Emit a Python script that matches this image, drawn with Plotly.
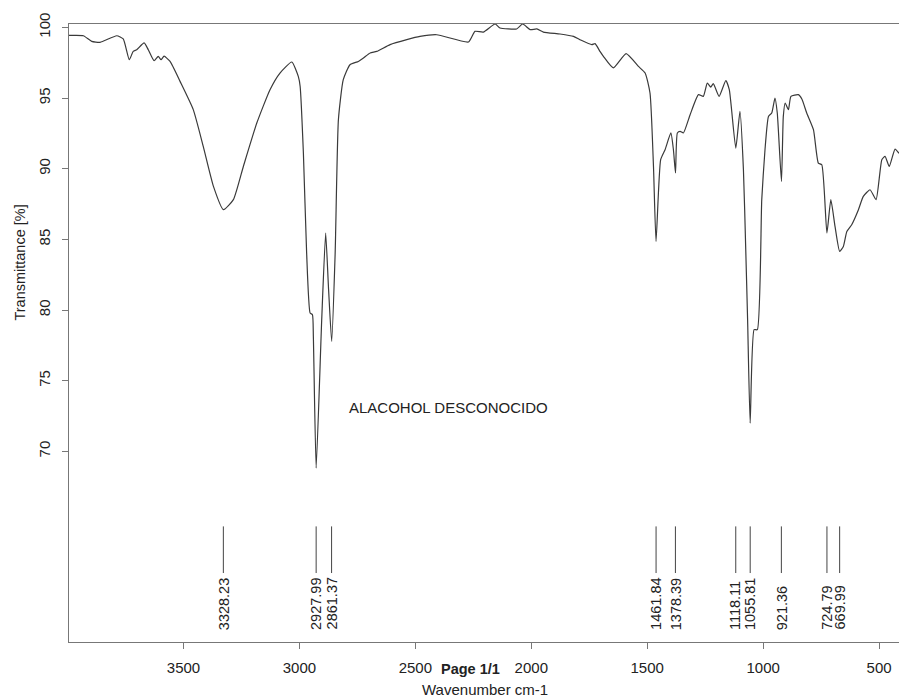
import plotly.graph_objects as go

# Spectrum
wavenumber = [3995, 3932, 3896, 3860, 3788, 3760, 3734, 3717, 3702, 3670, 3652, 3627, 3609, 3597, 3584, 3558,
              3515, 3458, 3415, 3371, 3328, 3285, 3242, 3184, 3127, 3084, 3033, 3005, 2997, 2983, 2969, 2954,
              2944, 2940, 2928, 2904, 2887, 2875, 2861, 2846, 2832, 2811, 2782, 2746, 2724, 2695, 2667, 2609,
              2537, 2480, 2408, 2271, 2243, 2207, 2156, 2135, 2063, 2037, 2005, 1976, 1948, 1876, 1818, 1790,
              1739, 1725, 1703, 1689, 1646, 1591, 1538, 1509, 1488, 1473, 1462, 1442, 1423, 1398, 1387, 1378,
              1370, 1358, 1344, 1315, 1279, 1258, 1241, 1226, 1215, 1190, 1161, 1146, 1118, 1100, 1085, 1075,
              1067, 1056, 1039, 1025, 1006, 992, 977, 963, 949, 939, 921, 913, 905, 891, 880, 848,
              833, 812, 783, 762, 747, 725, 708, 690, 670, 654, 639, 618, 589, 568, 539, 513,
              488, 474, 456, 431, 414]
transmittance = [99.43, 99.41, 99.01, 98.94, 99.41, 99.18, 97.71, 98.30, 98.42, 98.90, 98.42, 97.64, 97.95, 97.71, 97.96, 97.59,
                 96.18, 94.18, 91.58, 88.75, 87.10, 87.81, 90.16, 93.23, 95.59, 96.77, 97.55, 96.53, 95.82, 91.11, 84.03, 79.79,
                 79.67, 78.13, 68.82, 79.31, 85.45, 81.67, 77.78, 84.03, 93.47, 96.30, 97.36, 97.59, 97.83, 98.19, 98.30, 98.78,
                 99.13, 99.36, 99.48, 98.97, 99.72, 99.67, 100.24, 99.96, 99.89, 100.24, 99.84, 99.89, 99.67, 99.53, 99.36, 99.13,
                 98.78, 98.85, 98.28, 97.95, 97.13, 98.14, 97.24, 96.77, 95.36, 90.16, 84.85, 90.64, 91.34, 92.53, 91.34, 89.70,
                 92.53, 92.64, 92.53, 93.82, 95.24, 95.12, 96.06, 95.78, 96.02, 95.12, 96.23, 95.59, 91.46, 94.06, 89.93, 84.27,
                 79.31, 72.00, 78.61, 78.61, 87.81, 91.34, 93.70, 93.94, 95.00, 93.94, 89.10, 93.70, 94.65, 94.18, 95.12, 95.24,
                 94.93, 93.94, 92.76, 90.40, 90.28, 85.45, 87.81, 85.92, 84.15, 84.50, 85.56, 86.04, 87.10, 88.04, 88.51, 87.81,
                 90.64, 90.87, 90.16, 91.39, 91.09]
assert len(wavenumber) == len(transmittance)

# Peak picks
peak_positions = [3328.23, 2927.99, 2861.37, 1461.84, 1378.39, 1118.11, 1055.81, 921.36, 724.79, 669.99]
peak_labels = ["3328.23", "2927.99", "2861.37", "1461.84", "1378.39", "1118.11", "1055.81", "921.36", "724.79", "669.99"]

x_ticks = [3500, 3000, 2500, 2000, 1500, 1000, 500]
y_ticks = [70, 75, 80, 85, 90, 95, 100]

FONT = "Liberation Sans, Arial, sans-serif"
TXT = "#222222"
AX = "#777777"

fig = go.Figure()
fig.add_trace(go.Scatter(x=wavenumber, y=transmittance, mode="lines",
                         line=dict(color="#3a3a3a", width=1.2, shape="spline", smoothing=0.5),
                         hoverinfo="skip"))

px, py = [], []
for p in peak_positions:
    px += [p, p, None]
    py += [64.69, 61.39, None]
fig.add_trace(go.Scatter(x=px, y=py, mode="lines", line=dict(color="#444444", width=1), hoverinfo="skip"))

ann = []
for p, lab in zip(peak_positions, peak_labels):
    ann.append(dict(x=p, y=57.23, xref="x", yref="y", text=lab, showarrow=False, textangle=-90,
                    xanchor="center", yanchor="bottom", font=dict(family=FONT, size=14.5, color=TXT)))
ann.append(dict(x=2796, y=73.09, xref="x", yref="y", text="ALACOHOL DESCONOCIDO", showarrow=False,
                xanchor="left", yanchor="middle", font=dict(family=FONT, size=15, color=TXT)))
ann.append(dict(x=-0.059, y=0.614, xref="paper", yref="paper", text="Transmittance [%]", showarrow=False,
                textangle=-90, xanchor="center", yanchor="middle", font=dict(family=FONT, size=14.5, color=TXT)))
ann.append(dict(x=0.4843, y=-0.0432, xref="paper", yref="paper", text="<b>Page 1/1</b>", showarrow=False,
                xanchor="center", yanchor="middle", font=dict(family=FONT, size=14.5, color=TXT)))
ann.append(dict(x=0.501, y=-0.0772, xref="paper", yref="paper", text="Wavenumber cm-1", showarrow=False,
                xanchor="center", yanchor="middle", font=dict(family=FONT, size=15, color=TXT)))

fig.update_layout(
    width=899, height=700,
    margin=dict(l=69, r=0, t=24, b=58),
    plot_bgcolor="white", paper_bgcolor="white",
    showlegend=False,
    font=dict(family=FONT, color=TXT),
    annotations=ann,
    xaxis=dict(range=[3994, 414], tickvals=x_ticks, ticktext=[str(v) for v in x_ticks],
               ticks="outside", ticklen=6, tickcolor=AX, showline=True, linecolor=AX, linewidth=1,
               mirror=True, showgrid=False, zeroline=False, ticklabelstandoff=6,
               tickfont=dict(family=FONT, size=15, color=TXT)),
    yaxis=dict(range=[56.51, 100.24], tickvals=y_ticks, ticktext=[str(v) for v in y_ticks],
               tickangle=-90, ticks="outside", ticklen=6, tickcolor=AX, showline=True, linecolor=AX,
               linewidth=1, showgrid=False, zeroline=False, ticklabelstandoff=6,
               tickfont=dict(family=FONT, size=15, color=TXT)),
)

fig.write_html("out.html", config={"displayModeBar": False},
               post_script="document.body.style.margin='0';document.body.style.overflow='hidden';")
